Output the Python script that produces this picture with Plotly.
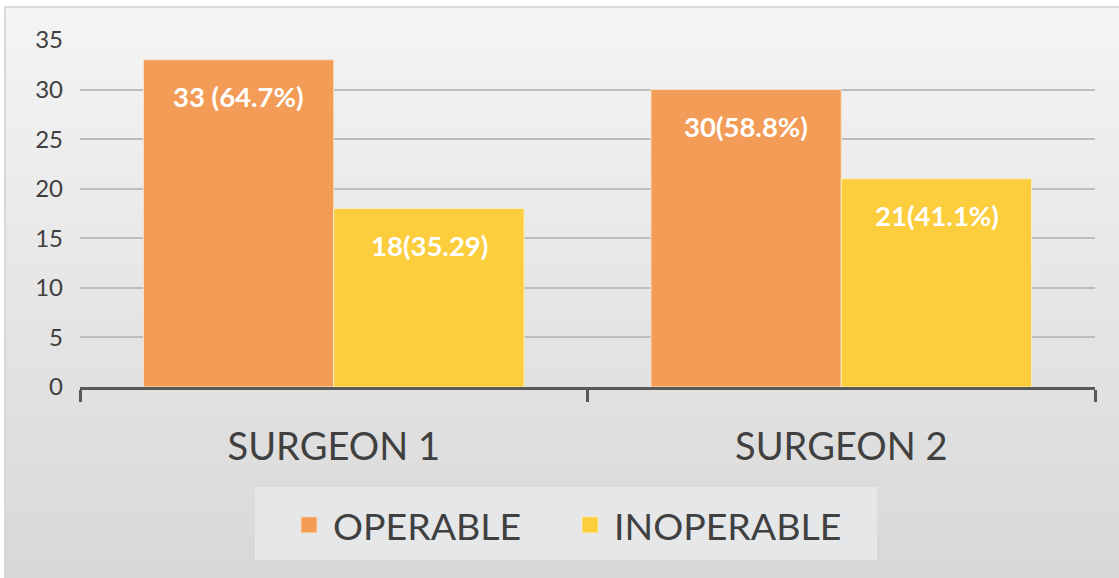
import plotly.graph_objects as go

categories = ["SURGEON 1", "SURGEON 2"]
operable = [33, 30]
inoperable = [18, 21]
operable_labels = ["33 (64.7%)", "30(58.8%)"]
inoperable_labels = ["18(35.29)", "21(41.1%)"]

W, H = 1119, 578
L, R, T, B = 80, 24, 40, 191
FONT = "Lato"
ORANGE = "#F29C57"
YELLOW = "#FCCD3D"

fig = go.Figure()
fig.add_trace(go.Bar(x=categories, y=operable, name="OPERABLE", marker=dict(color=ORANGE, line=dict(color="#f8e0c8", width=1)), showlegend=False, hoverinfo="skip"))
fig.add_trace(go.Bar(x=categories, y=inoperable, name="INOPERABLE", marker=dict(color=YELLOW, line=dict(color="#fbeec0", width=1)), showlegend=False, hoverinfo="skip"))
# legend entries with bigger square markers
fig.add_trace(go.Scatter(x=[None], y=[None], mode="markers", name="OPERABLE", marker=dict(symbol="square", size=16, color=ORANGE, line=dict(color="#f8d8b8", width=1))))
fig.add_trace(go.Scatter(x=[None], y=[None], mode="markers", name="INOPERABLE", marker=dict(symbol="square", size=16, color=YELLOW, line=dict(color="#fbe8b0", width=1))))

# data labels inside the bar tops
for i, c in enumerate(categories):
    fig.add_annotation(x=c, y=operable[i], xshift=-95, yshift=-37, text="<b>%s</b>" % operable_labels[i], showarrow=False, font=dict(family=FONT, size=27.5, color="white"))
    fig.add_annotation(x=c, y=inoperable[i], xshift=96, yshift=-37, text="<b>%s</b>" % inoperable_labels[i], showarrow=False, font=dict(family=FONT, size=27.5, color="white"))

PW, PH = W - L - R, H - T - B
def px(x):
    return (x - L) / PW
def py(y):
    return (H - B - y) / PH

# background gradient strips
n = 40
shapes = []
c0, c1 = 0xF4, 0xD8
for k in range(n):
    v = int(round(c0 + (c1 - c0) * k / (n - 1)))
    col = "#%02x%02x%02x" % (v, v, v)
    shapes.append(dict(type="rect", xref="paper", yref="paper", layer="below",
                       x0=px(5), x1=px(W + 5),
                       y0=py(7 + (H - 7) * (k + 1) / n + 0.5), y1=py(7 + (H - 7) * k / n),
                       line=dict(width=0), fillcolor=col))
# frame border
shapes.append(dict(type="rect", xref="paper", yref="paper", layer="below",
                   x0=px(5), x1=px(W + 5), y0=py(H + 5), y1=py(7),
                   line=dict(color="#cfcfcf", width=1.5), fillcolor="rgba(0,0,0,0)"))
# legend box
shapes.append(dict(type="rect", xref="paper", yref="paper", layer="below",
                   x0=px(255), x1=px(877), y0=py(560), y1=py(487),
                   line=dict(width=0), fillcolor="#e6e7e8"))

fig.update_layout(
    width=W, height=H,
    margin=dict(l=L, r=R, t=T, b=B),
    paper_bgcolor="white",
    plot_bgcolor="rgba(0,0,0,0)",
    barmode="group",
    bargap=0.25,
    bargroupgap=0,
    shapes=shapes,
    font=dict(family=FONT, color="#404040"),
    legend=dict(orientation="h", x=px(566), xanchor="center", y=py(525), yanchor="middle",
                bgcolor="rgba(0,0,0,0)", font=dict(family=FONT, size=37.5, color="#404040"),
                itemwidth=38, entrywidth=228, tracegroupgap=0),
    xaxis=dict(showgrid=False, showline=True, linecolor="#595959", linewidth=3,
               ticks="outside", tickson="boundaries", ticklen=12, tickwidth=3, tickcolor="#595959",
               tickfont=dict(family=FONT, size=38, color="#404040"), ticklabelstandoff=24),
    yaxis=dict(range=[0, 35], dtick=5, showgrid=True, gridcolor="#bdbdbd", gridwidth=2,
               zeroline=False, showline=False, ticks="",
               tickfont=dict(family=FONT, size=24, color="#404040"), ticklabelstandoff=16),
)

fig.write_html("out.html", config={"displayModeBar": False},
               post_script="document.body.style.margin='0';document.body.style.overflow='hidden';")
